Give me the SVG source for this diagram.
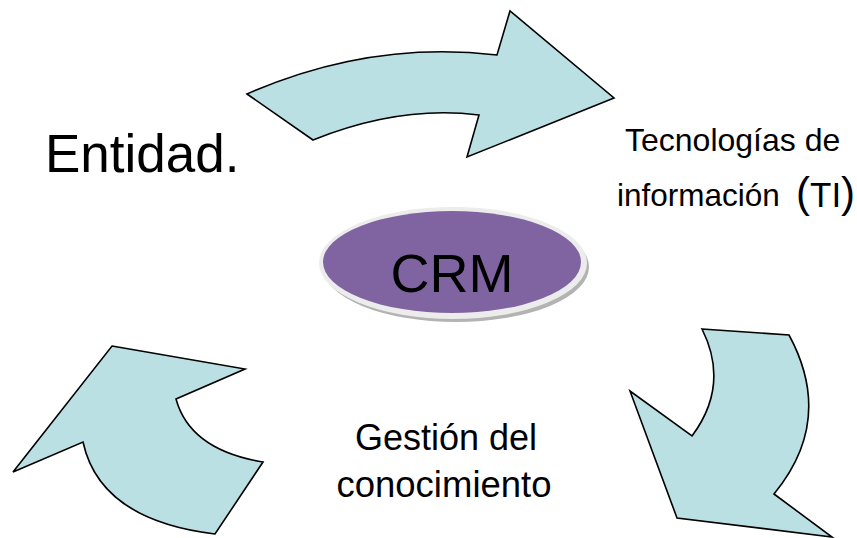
<svg xmlns="http://www.w3.org/2000/svg" width="857" height="538" viewBox="0 0 857 538">
<style>
.arrow{fill:#BBE0E3;stroke:#000;stroke-width:1.6;stroke-linejoin:miter}
.t{font-family:"Liberation Sans",Arial,sans-serif;fill:#000}
</style>
<rect width="857" height="538" fill="#fff"/>
<g id="connectors">
<path id="arrow-top" class="arrow" d="M247,94 L313,140 Q400,105 479,115 L467,157 L614,98 L510,11 L497,55 Q370,40 247,94 Z"/>
<path id="arrow-right" class="arrow" d="M702,329 L789,335 Q835,420 774,494 L832,537 L677,518 L630,391 L692,436 Q730,385 702,329 Z"/>
<path id="arrow-left" class="arrow" d="M112,346 L245,369 L176,399 Q190,450 263,462 L215,534 Q100,520 83,442 L13,472 Z"/>
</g>
<g id="node-crm">
<ellipse cx="456" cy="267" rx="133" ry="55" fill="#b3b3b3"/>
<ellipse cx="453" cy="263" rx="134" ry="56" fill="#ececec"/>
<ellipse cx="452" cy="262" rx="129" ry="51" fill="#8064A2"/>
<text class="t" x="452" y="292" font-size="54" text-anchor="middle">CRM</text>
</g>
<g id="node-entidad">
<text class="t" x="45" y="172" font-size="53">Entidad.</text>
</g>
<g id="node-ti">
<text class="t" x="625" y="151" font-size="32">Tecnologías de</text>
<text class="t" x="617" y="206" font-size="31.5">información</text>
<text class="t" x="796" y="207"><tspan font-size="42">(</tspan><tspan font-size="35">TI</tspan><tspan font-size="42">)</tspan></text>
</g>
<g id="node-gestion">
<text class="t" x="446" y="450" font-size="36" text-anchor="middle">Gestión del</text>
<text class="t" x="444" y="497" font-size="36.5" text-anchor="middle">conocimiento</text>
</g>
</svg>
